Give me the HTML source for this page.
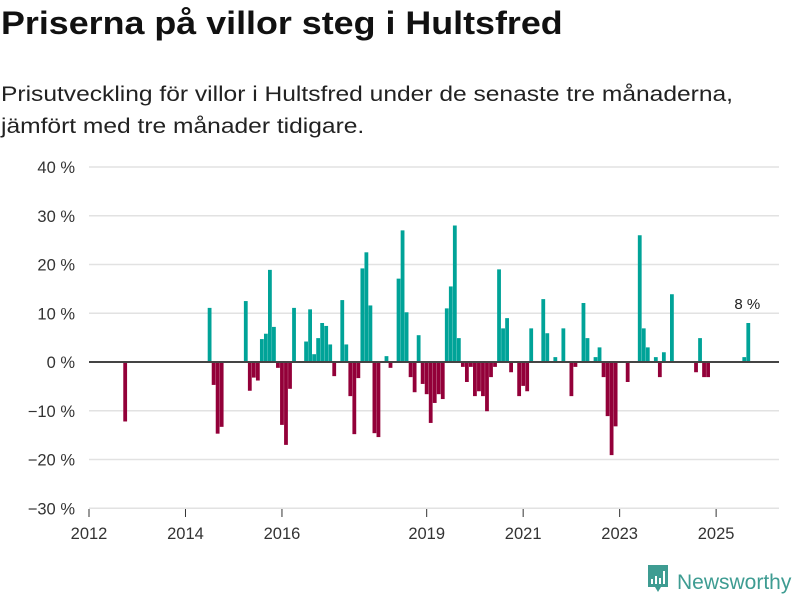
<!DOCTYPE html>
<html><head><meta charset="utf-8">
<style>
body{margin:0;width:800px;height:600px;background:#fff;font-family:"Liberation Sans",sans-serif;overflow:hidden;position:relative}
h1{position:absolute;left:1px;top:5px;margin:0;font-size:32px;font-weight:bold;color:#111;transform:scaleX(1.12);transform-origin:0 0;white-space:nowrap}
.sub{position:absolute;left:1px;top:79px;margin:0;font-size:21px;line-height:32px;color:#222;transform:scaleX(1.17);transform-origin:0 0;white-space:nowrap}
svg{position:absolute;left:0;top:0}
</style></head><body>
<h1>Priserna på villor steg i Hultsfred</h1>
<p class="sub">Prisutveckling för villor i Hultsfred under de senaste tre månaderna,<br>jämfört med tre månader tidigare.</p>
<svg id="chart" width="800" height="600"></svg>
<script>
const yTicks=[40,30,20,10,0,-10,-20,-30];
const yTickLabels=["40 %","30 %","20 %","10 %","0 %","\u221210 %","\u221220 %","\u221230 %"];
const xTickYears=[2012,2014,2016,2019,2021,2023,2025];
// month index (0 = Jan 2012) and values in %
const monthIdx=[9,30,31,32,33,39,40,41,42,43,44,45,46,47,48,49,50,51,54,55,56,57,58,59,60,61,63,64,65,66,67,68,69,70,71,72,74,75,77,78,79,80,81,82,83,84,85,86,87,88,89,90,91,92,93,94,95,96,97,98,99,100,101,102,103,104,105,107,108,109,110,113,114,116,118,120,121,123,124,126,127,128,129,130,131,134,137,138,139,141,142,143,145,151,152,153,154,163,164];
const values=[-12.2,11.1,-4.7,-14.7,-13.3,12.5,-5.9,-3.2,-3.8,4.7,5.8,18.9,7.2,-1.2,-12.9,-17.0,-5.5,11.1,4.2,10.8,1.6,4.9,8.0,7.4,3.6,-2.9,12.7,3.6,-7.0,-14.8,-3.3,19.2,22.5,11.6,-14.6,-15.4,1.2,-1.2,17.1,27.0,10.2,-3.1,-6.2,5.5,-4.5,-6.6,-12.5,-8.4,-6.6,-7.6,11.0,15.5,28.0,4.9,-1.0,-4.1,-1.0,-7.0,-6.0,-7.0,-10.1,-3.1,-1.0,19.0,6.9,9.0,-2.1,-7.0,-4.9,-6.0,6.9,12.9,5.9,1.0,6.9,-7.0,-1.0,12.1,4.9,1.0,3.0,-3.1,-11.1,-19.1,-13.2,-4.1,26.0,6.9,3.0,1.0,-3.1,2.0,13.9,-2.1,4.9,-3.1,-3.1,1.0,8.0];
const lastLabel="8 %";

const NS="http://www.w3.org/2000/svg";
const svg=document.getElementById('chart');
const y=v=>362-v*4.875;
const x=i=>89+i*4.02;
const xYear=yr=>x((yr-2012)*12);
function mk(t,a){const e=document.createElementNS(NS,t);for(const k in a)e.setAttribute(k,a[k]);svg.appendChild(e);return e;}
yTicks.forEach((t,k)=>{
  if(t!==0){const g=mk('line',{x1:89,x2:779,y1:y(t),y2:y(t),stroke:'#e2e2e2','stroke-width':1.5});
  
  }
  const l=mk('text',{x:75,y:y(t)+6,'text-anchor':'end','font-size':16.5,fill:'#333'});
  l.textContent=yTickLabels[k];
  
  
});
xTickYears.forEach(yr=>{
  const t=mk('line',{x1:xYear(yr),x2:xYear(yr),y1:509,y2:517,stroke:'#333','stroke-width':1});
  
  
  const l=mk('text',{x:xYear(yr),y:539,'text-anchor':'middle','font-size':16.5,fill:'#333'});
  l.textContent=yr;
  
  
});
monthIdx.forEach((m,k)=>{
  const v=values[k];
  const r=mk('rect',{x:x(m)-1.9,width:3.8,y:Math.min(y(v),y(0)),height:Math.abs(y(v)-y(0)),fill:v>=0?'#00a398':'#930039'});
  
  
});
const z=mk('line',{x1:89,x2:779,y1:y(0),y2:y(0),stroke:'#444','stroke-width':2});


const lm=monthIdx[monthIdx.length-1],lv=values[values.length-1];
const lab=mk('text',{x:x(lm)-1,y:y(lv)-14,'text-anchor':'middle','font-size':15,fill:'#222'});
lab.textContent=lastLabel;


</script>
<svg width="160" height="50" style="left:640px;top:560px">
<path d="M8 5h20v22h-7l-3 5-3-5h-7z" fill="#3e9c92"/>
<rect x="11" y="19" width="2" height="5" fill="#fff"/><rect x="15" y="16" width="2" height="8" fill="#fff"/><rect x="19" y="18" width="2" height="6" fill="#fff"/><rect x="23" y="11" width="2" height="13" fill="#fff"/>
<text x="37" y="29" font-size="21" fill="#3e9c92" font-family="Liberation Sans, sans-serif">Newsworthy</text>
</svg>
</body></html>
